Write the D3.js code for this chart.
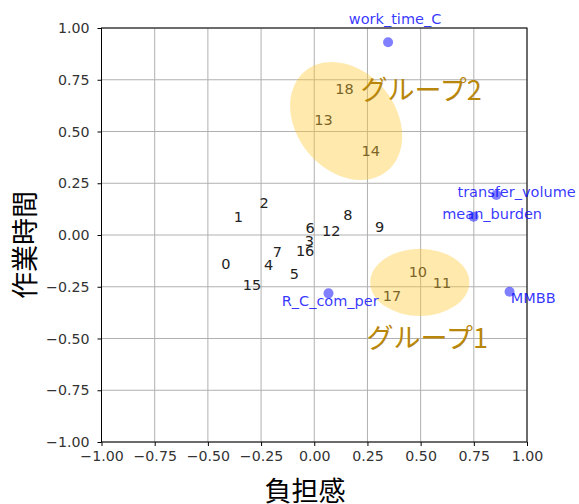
<!DOCTYPE html>
<html>
<head>
<meta charset="utf-8">
<script src="https://cdn.jsdelivr.net/npm/d3@7"></script>
<style>
  html, body { margin: 0; padding: 0; background: #fff; }
  svg { display: block; }
</style>
</head>
<body>
<div id="chart"></div>
<script>
// Sample labels (0–18) placed by their scores on the two axes
const sampleNames = ["0","1","2","3","4","5","6","7","8","9","10","11","12","13","14","15","16","17","18"];
const sampleX = [-0.416,-0.357,-0.236,-0.023,-0.215,-0.093,-0.019,-0.173,0.158,0.307,0.487,0.600,0.080,0.043,0.266,-0.293,-0.043,0.365,0.142];
const sampleY = [-0.140,0.088,0.156,-0.027,-0.145,-0.188,0.035,-0.081,0.097,0.040,-0.177,-0.230,0.021,0.559,0.406,-0.242,-0.077,-0.295,0.705];

// Variable loadings (blue points) and where their names are written
const varNames = ["work_time_C","transfer_volume","mean_burden","MMBB","R_C_com_per"];
const varX = [0.347,0.856,0.749,0.918,0.067];
const varY = [0.931,0.193,0.088,-0.274,-0.282];
const varLabelX = [0.380,0.951,0.836,1.029,0.075];
const varLabelY = [1.045,0.208,0.101,-0.303,-0.316];

// Group outlines: centre, half width/height in data units, rotation (deg)
const groupNames = ["グループ1","グループ2"];
const groupCX = [0.496,0.150];
const groupCY = [-0.229,0.551];
const groupRX = [0.233,0.304];
const groupRY = [0.162,0.239];
const groupAngle = [0,50.7];
const groupLabelX = [0.246,0.217];
const groupLabelY = [-0.500,0.698];

const tickValues = [-1,-0.75,-0.5,-0.25,0,0.25,0.5,0.75,1];
const xTitle = "負担感";
const yTitle = "作業時間";

const W = 579, H = 504;
const margin = {left: 101.5, right: 52, top: 28, bottom: 62};

const svg = d3.select("#chart").append("svg")
  .attr("width", W).attr("height", H)
  .style("background", "#fff");

const x = d3.scaleLinear().domain([-1, 1]).range([margin.left, W - margin.right]);
const y = d3.scaleLinear().domain([-1, 1]).range([H - margin.bottom, margin.top]);

const fmt = v => d3.format(".2f")(v).replace("-", "\u2212");
const latinFont = "DejaVu Sans, sans-serif";
const jpFont = "'Noto Sans CJK JP', sans-serif";

// grid
const grid = svg.append("g");
grid.selectAll("line.gx").data(tickValues).join("line")
  .attr("x1", d => x(d)).attr("x2", d => x(d))
  .attr("y1", y(-1)).attr("y2", y(1))
  .attr("stroke", "#b0b0b0").attr("stroke-width", 1);
grid.selectAll("line.gy").data(tickValues).join("line")
  .attr("y1", d => y(d)).attr("y2", d => y(d))
  .attr("x1", x(-1)).attr("x2", x(1))
  .attr("stroke", "#b0b0b0").attr("stroke-width", 1);

// axes
const xAxis = svg.append("g")
  .attr("transform", `translate(0,${y(-1)})`)
  .call(d3.axisBottom(x).tickValues(tickValues).tickFormat(fmt).tickSizeOuter(0).tickSize(4).tickPadding(5));
const yAxis = svg.append("g")
  .attr("transform", `translate(${x(-1)},0)`)
  .call(d3.axisLeft(y).tickValues(tickValues).tickFormat(fmt).tickSizeOuter(0).tickSize(4).tickPadding(8));
[xAxis, yAxis].forEach(a => {
  a.selectAll("text").attr("font-family", latinFont).attr("font-size", 14.2).attr("fill", "#333");
  a.selectAll("line").attr("stroke", "#000").attr("stroke-width", 1);
  a.select(".domain").remove();
});

// frame
svg.append("rect")
  .attr("x", x(-1)).attr("y", y(1))
  .attr("width", x(1) - x(-1)).attr("height", y(-1) - y(1))
  .attr("fill", "none").attr("stroke", "#000").attr("stroke-width", 1);

// sample labels
svg.append("g").selectAll("text").data(sampleNames).join("text")
  .attr("x", (d, i) => x(sampleX[i]))
  .attr("y", (d, i) => y(sampleY[i]))
  .attr("dy", "0.36em")
  .attr("text-anchor", "middle")
  .attr("font-family", latinFont)
  .attr("font-size", 14.5)
  .attr("fill", "#222")
  .text(d => d);

// group outlines
svg.append("g").selectAll("ellipse").data(groupNames).join("ellipse")
  .attr("transform", (d, i) => `translate(${x(groupCX[i])},${y(groupCY[i])}) rotate(${groupAngle[i]})`)
  .attr("rx", (d, i) => x(groupRX[i]) - x(0))
  .attr("ry", (d, i) => y(0) - y(groupRY[i]))
  .attr("fill", "rgb(255,200,50)")
  .attr("fill-opacity", 0.4);

// group names
svg.append("g").selectAll("text").data(groupNames).join("text")
  .attr("x", (d, i) => x(groupLabelX[i]))
  .attr("y", (d, i) => y(groupLabelY[i]))
  .attr("dy", "0.36em")
  .attr("font-family", jpFont)
  .attr("font-size", 27)
  .attr("fill", "#b8860b")
  .text(d => d);

// variable points
svg.append("g").selectAll("circle").data(varNames).join("circle")
  .attr("cx", (d, i) => x(varX[i]))
  .attr("cy", (d, i) => y(varY[i]))
  .attr("r", 5)
  .attr("fill", "blue")
  .attr("fill-opacity", 0.5);

// variable names
svg.append("g").selectAll("text").data(varNames).join("text")
  .attr("x", (d, i) => x(varLabelX[i]))
  .attr("y", (d, i) => y(varLabelY[i]))
  .attr("dy", "0.36em")
  .attr("text-anchor", "middle")
  .attr("font-family", latinFont)
  .attr("font-size", 14.5)
  .attr("fill", "blue")
  .attr("fill-opacity", 0.8)
  .text(d => d);

// axis titles
svg.append("text")
  .attr("x", 305).attr("y", 491)
  .attr("dy", "0.36em")
  .attr("text-anchor", "middle")
  .attr("font-family", jpFont).attr("font-size", 27).attr("fill", "#000")
  .text(xTitle);
svg.append("text")
  .attr("transform", `translate(25,245) rotate(-90)`)
  .attr("dy", "0.36em")
  .attr("text-anchor", "middle")
  .attr("font-family", jpFont).attr("font-size", 27).attr("fill", "#000")
  .text(yTitle);
</script>
</body>
</html>
